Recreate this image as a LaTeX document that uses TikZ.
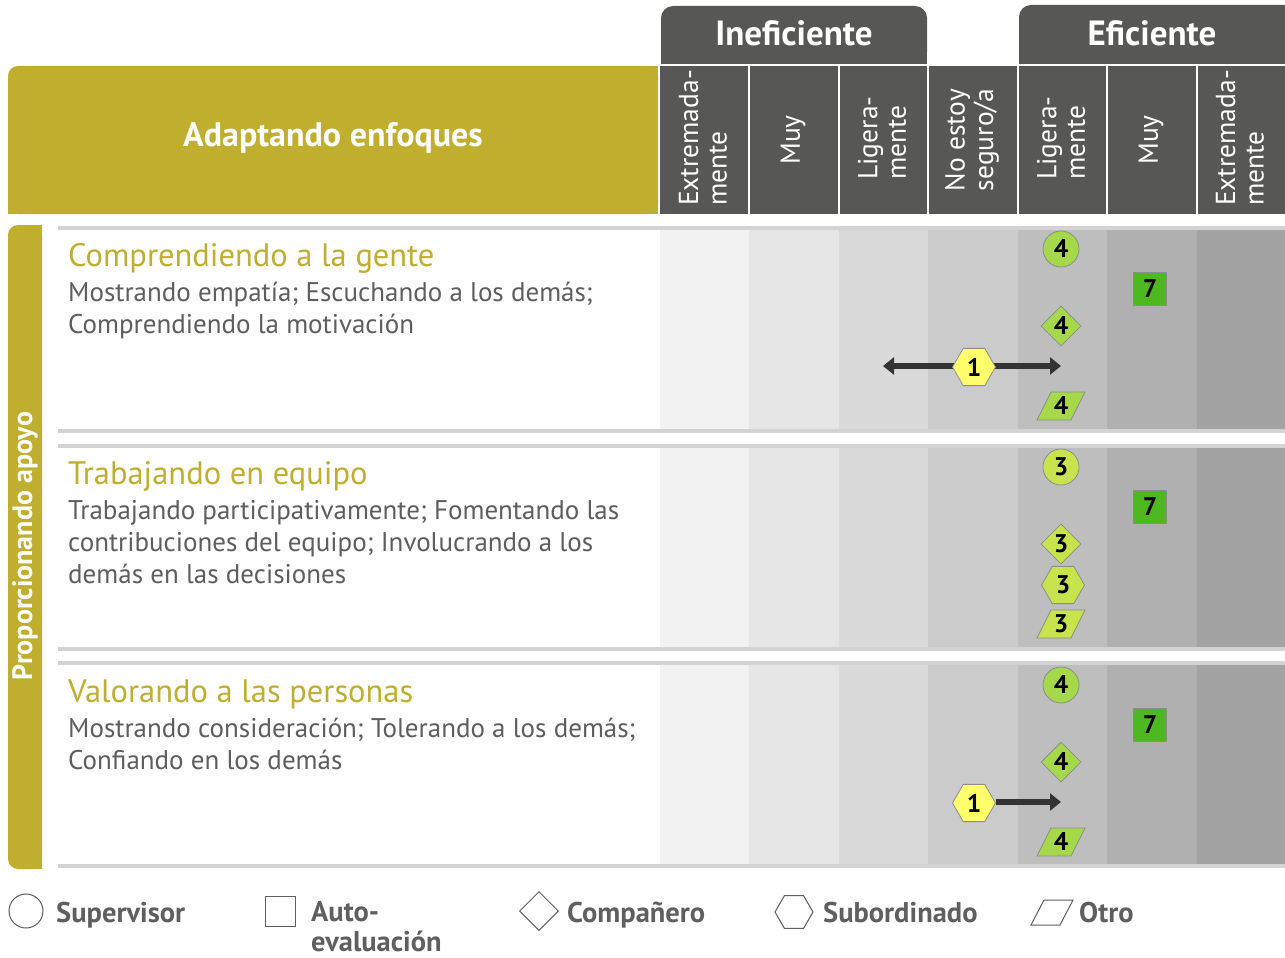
\documentclass[tikz,border=0pt]{standalone}
\usepackage{fontspec}
\setmainfont{PT Sans}
\usetikzlibrary{shapes.geometric,arrows.meta,calc}
\definecolor{olive}{HTML}{C0AE2E}
\definecolor{darkhdr}{HTML}{575756}
\definecolor{rowline}{HTML}{D3D3D3}
\definecolor{bodygray}{HTML}{5E5E5E}
\definecolor{cA}{HTML}{F2F2F2}
\definecolor{cB}{HTML}{E6E6E6}
\definecolor{cC}{HTML}{DADADA}
\definecolor{cD}{HTML}{CBCBCB}
\definecolor{cE}{HTML}{BEBEBE}
\definecolor{cF}{HTML}{B0B0B0}
\definecolor{cG}{HTML}{A3A3A3}
\definecolor{gA}{HTML}{A6D84B}
\definecolor{gB}{HTML}{C7E44C}
\definecolor{gSq}{HTML}{4DB81F}
\definecolor{yHex}{HTML}{FFFF6E}
\definecolor{mkborder}{HTML}{8C8C8C}
\definecolor{arrowcol}{HTML}{333333}
\definecolor{leggray}{HTML}{5F5F5F}
\begin{document}
\begin{tikzpicture}[x=1pt,y=-1pt,
  hdr/.style={font=\bfseries\fontsize{35}{35}\selectfont, text=white, inner sep=0},
  colhdr/.style={rotate=90, align=left, text=white, inner sep=0, font=\fontsize{27.5}{28.5}\selectfont},
  ttl/.style={anchor=base west, text=olive, inner sep=0, font=\fontsize{32.5}{32.5}\selectfont},
  body/.style={anchor=base west, text=bodygray, align=left, inner sep=0, font=\fontsize{27}{32}\selectfont},
  mk/.style={draw=mkborder, line width=0.8pt, inner sep=0, text=black, font=\bfseries\fontsize{25.5}{25.5}\selectfont},
  circ/.style={mk, circle, minimum size=36pt},
  sq/.style={mk, rectangle, minimum size=33pt, fill=gSq},
  dia/.style={mk, diamond, minimum size=40pt},
  hex/.style={mk, regular polygon, regular polygon sides=6, minimum size=43pt},
  ptext/.style={inner sep=0, text=black, font=\bfseries\fontsize{25.5}{25.5}\selectfont},
  para/.style={draw=mkborder, line width=0.8pt},
  arrowline/.style={draw=arrowcol, line width=5.5pt, arrows={-Triangle[length=11pt,width=17pt]}},
  legshape/.style={draw=leggray, line width=1pt, fill=white, inner sep=0},
  legtext/.style={anchor=base west, text=leggray, inner sep=0, align=left, font=\bfseries\fontsize{28.5}{30}\selectfont}
]
\useasboundingbox (0,0) rectangle (1285,958);
\fill[white] (0,0) rectangle (1285,958);

% ---------- header ----------
\fill[olive, rounded corners=10pt] (8,66) rectangle (658,214);
\fill[olive] (8,100) rectangle (658,214);
\fill[olive] (60,66) rectangle (658,214);
\node[hdr, font=\bfseries\fontsize{34}{34}\selectfont] (adapt) at (333,138) {Adaptando enfoques};

\fill[darkhdr, rounded corners=12pt] (661,6) rectangle (927,64);
\fill[darkhdr] (661,40) rectangle (927,64);
\node[hdr] (inef) at (794,33) {Ineficiente};
\fill[darkhdr, rounded corners=12pt] (1019,5) rectangle (1300,64);
\fill[darkhdr] (1019,40) rectangle (1300,64);
\node[hdr] (efic) at (1152,33) {Eficiente};

\fill[darkhdr] (660,66) rectangle (1285,214);
\foreach \b in {749,838.5,928,1017.5,1107,1196.5}
  \draw[white, line width=2pt] (\b,66) -- (\b,214);

\node[colhdr] (h1) at (703,138) {Extremada-\\mente};
\node[colhdr] (h2) at (793,140) {Muy};
\node[colhdr] (h3) at (882,138) {Ligera-\\mente};
\node[colhdr] (h4) at (972,140) {No estoy\\seguro/a};
\node[colhdr] (h5) at (1061,138) {Ligera-\\mente};
\node[colhdr] (h6) at (1151,140) {Muy};
\node[colhdr] (h7) at (1240,138) {Extremada-\\mente};

% ---------- left bar ----------
\fill[olive, rounded corners=10pt] (8,225) rectangle (42,869);
\fill[olive] (25,225) rectangle (42,869);
\node[rotate=90, text=white, inner sep=0, font=\bfseries\fontsize{28}{28}\selectfont] (prop) at (25,546) {Proporcionando apoyo};

% ---------- rows ----------
\foreach \d in {0,217.5,435} {
  \fill[rowline] (58,226+\d) rectangle (1285,433+\d);
  \fill[white] (58,230+\d) rectangle (660,429+\d);
  \fill[cA] (660,230+\d) rectangle (749,429+\d);
  \fill[cB] (749,230+\d) rectangle (838.5,429+\d);
  \fill[cC] (838.5,230+\d) rectangle (928,429+\d);
  \fill[cD] (928,230+\d) rectangle (1017.5,429+\d);
  \fill[cE] (1017.5,230+\d) rectangle (1107,429+\d);
  \fill[cF] (1107,230+\d) rectangle (1196.5,429+\d);
  \fill[cG] (1196.5,230+\d) rectangle (1285,429+\d);
}

\node[ttl] (t1) at (68,266) {Comprendiendo a la gente};
\node[body] (b1) at (68,333) {Mostrando empatía; Escuchando a los demás;\\Comprendiendo la motivación};
\node[ttl] (t2) at (68,484) {Trabajando en equipo};
\node[body] (b2) at (68,583) {Trabajando participativamente; Fomentando las\\contribuciones del equipo; Involucrando a los\\demás en las decisiones};
\node[ttl] (t3) at (68,702) {Valorando a las personas};
\node[body] (b3) at (68,769) {Mostrando consideración; Tolerando a los demás;\\Confiando en los demás};

% ---------- row 1 marks ----------
\coordinate (a1l) at (883,366);
\coordinate (a1r) at (1061,366);
\draw[arrowline, arrows={Triangle[length=11pt,width=17pt]-Triangle[length=11pt,width=17pt]}] (a1l) -- (a1r);
\node[circ, fill=gA] (r1c) at (1061,249) {4};
\node[sq] (r1s) at (1150,289) {7};
\node[dia, fill=gA] (r1d) at (1061,326) {4};
\node[hex, fill=yHex] (r1h) at (974,367) {1};
\coordinate (r1p) at (1061,406);
\filldraw[para, fill=gA] ($(r1p)+(-24,14)$) -- ($(r1p)+(10,14)$) -- ($(r1p)+(24,-14)$) -- ($(r1p)+(-10,-14)$) -- cycle;
\node[ptext] (r1o) at (r1p) {4};

% ---------- row 2 marks ----------
\node[circ, fill=gB] (r2c) at (1061,467) {3};
\node[sq] (r2s) at (1150,507) {7};
\node[dia, fill=gB] (r2d) at (1061,544) {3};
\node[hex, fill=gB] (r2h) at (1063,585) {3};
\coordinate (r2p) at (1061,624);
\filldraw[para, fill=gB] ($(r2p)+(-24,14)$) -- ($(r2p)+(10,14)$) -- ($(r2p)+(24,-14)$) -- ($(r2p)+(-10,-14)$) -- cycle;
\node[ptext] (r2o) at (r2p) {3};

% ---------- row 3 marks ----------
\coordinate (a3r) at (1061,802);
\node[circ, fill=gA] (r3c) at (1061,685) {4};
\node[sq] (r3s) at (1150,725) {7};
\node[dia, fill=gA] (r3d) at (1061,762) {4};
\node[hex, fill=yHex] (r3h) at (974,803) {1};
\draw[arrowline] (r3h.east |- a3r) -- (a3r);
\coordinate (r3p) at (1061,842);
\filldraw[para, fill=gA] ($(r3p)+(-24,14)$) -- ($(r3p)+(10,14)$) -- ($(r3p)+(24,-14)$) -- ($(r3p)+(-10,-14)$) -- cycle;
\node[ptext] (r3o) at (r3p) {4};

% ---------- legend ----------
\node[legshape, circle, minimum size=34pt] (lc) at (26,911) {};
\node[legtext] (lct) at (56,922) {Supervisor};
\node[legshape, rectangle, minimum size=30pt] (ls) at (280,911.5) {};
\node[legtext] (lst) at (311,951) {Auto-\\evaluación};
\node[legshape, diamond, minimum size=39pt] (ld) at (539,911) {};
\node[legtext] (ldt) at (567,922) {Compañero};
\node[legshape, regular polygon, regular polygon sides=6, minimum size=38pt] (lh) at (794,912) {};
\node[legtext] (lht) at (823,922) {Subordinado};
\coordinate (lp) at (1052,912.5);
\draw[legshape] ($(lp)+(-21,12.5)$) -- ($(lp)+(8,12.5)$) -- ($(lp)+(21,-12.5)$) -- ($(lp)+(-8,-12.5)$) -- cycle;
\node[legtext] (lpt) at (1079,922) {Otro};
\end{tikzpicture}
\end{document}
